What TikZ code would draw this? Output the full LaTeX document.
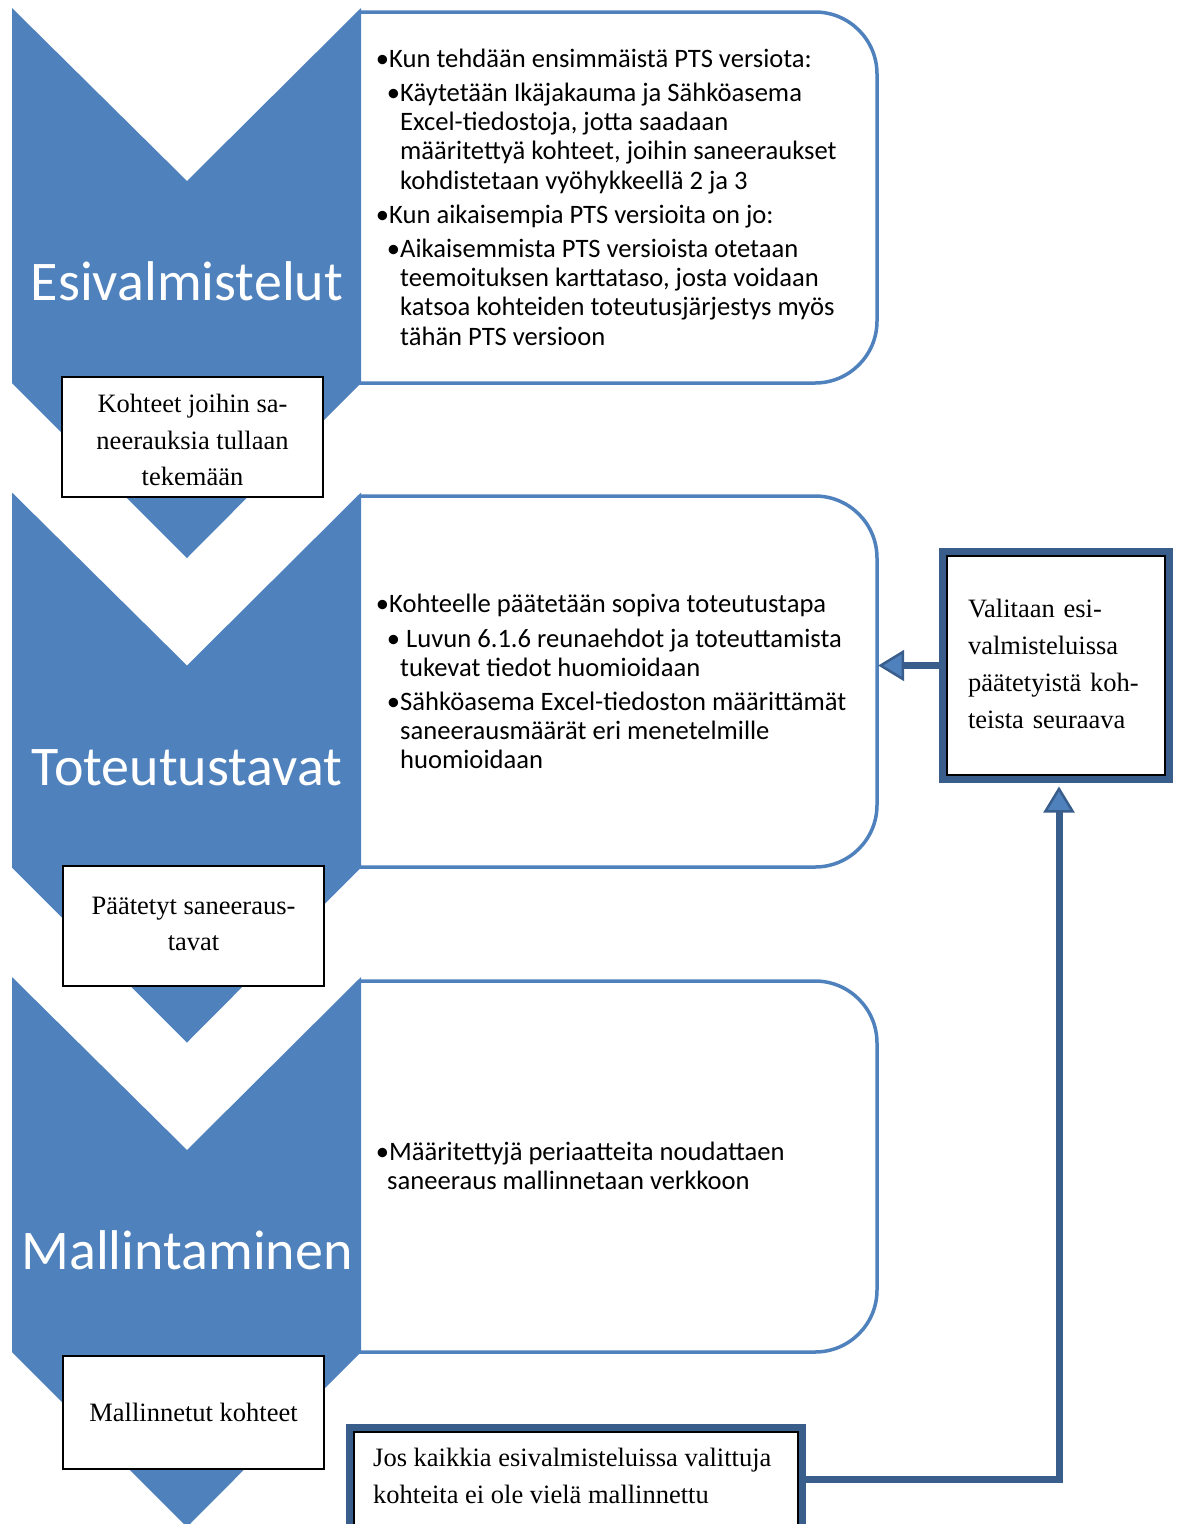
\documentclass[tikz,border=0pt]{standalone}
\usepackage{fontspec}
\setmainfont{Liberation Serif}
\newfontfamily\calfont{Carlito}
\usetikzlibrary{arrows.meta}
\definecolor{acc}{HTML}{4F81BD}
\definecolor{dk}{HTML}{395E8C}
\newcommand\tl[4]{\node[anchor=base west, inner sep=0, font=\calfont\fontsize{26.6}{30}\selectfont] (#1) at (#2,#3) {#4};}
\begin{document}
\begin{tikzpicture}[x=1pt,y=-1pt,
  chev/.style={fill=acc},
  pbox/.style={draw=acc, line width=3.5pt, fill=white},
  title/.style={text=white, font=\calfont\fontsize{56}{62}\selectfont, anchor=base, inner sep=0},
  obox/.style={draw=black, line width=1.8pt, fill=white, align=center, inner sep=2pt,
    minimum width=261pt, font=\fontsize{26.5}{36.5}\selectfont},
  frame/.style={draw=dk, line width=7pt, fill=white, outer sep=0pt},
  conn/.style={draw=dk, line width=7pt, -{Triangle[width=31pt,length=26pt,fill=acc,line width=2.5pt]}},
  ]
\useasboundingbox (0,0) rectangle (1179,1524);
\clip (0,0) rectangle (1179,1524);

% rounded panels
\node[minimum width=516pt, minimum height=371pt, inner sep=0] (p1) at (619,197.5) {};
\node[minimum width=516pt, minimum height=371pt, inner sep=0] (p2) at (619,681.5) {};
\node[minimum width=516pt, minimum height=371pt, inner sep=0] (p3) at (619,1166.5) {};
\draw[pbox] (359,12) -- (815,12) arc[start angle=90,end angle=0,radius=62pt] -- (877,321) arc[start angle=0,end angle=-90,radius=62pt] -- (355,383);
\draw[pbox] (359,496) -- (815,496) arc[start angle=90,end angle=0,radius=62pt] -- (877,805) arc[start angle=0,end angle=-90,radius=62pt] -- (355,867);
\draw[pbox] (359,981) -- (815,981) arc[start angle=90,end angle=0,radius=62pt] -- (877,1290) arc[start angle=0,end angle=-90,radius=62pt] -- (355,1352);

% chevrons
\fill[chev] (12,8) -- (187,181) -- (361,8) -- (361,383) -- (187,558) -- (12,383) -- cycle;
\fill[chev] (12,492.5) -- (187,665.5) -- (361,492.5) -- (361,867.5) -- (187,1042.5) -- (12,867.5) -- cycle;
\fill[chev] (12,977) -- (187,1150) -- (361,977) -- (361,1352) -- (187,1527) -- (12,1352) -- cycle;

\node[title] (c1) at (187,300) {Esivalmistelut};
\node[title] (c2) at (187,785) {Toteutustavat};
\node[title] (c3) at (187,1269) {Mallintaminen};

% panel texts
\tl{a1}{389}{67}{\llap{•}Kun tehdään ensimmäistä PTS versiota:}
\tl{a2}{400}{101}{\llap{•}Käytetään Ikäjakauma ja Sähköasema}
\tl{a3}{400}{130.3}{Excel-tiedostoja, jotta saadaan}
\tl{a4}{400}{159.6}{määritettyä kohteet, joihin saneeraukset}
\tl{a5}{400}{189}{kohdistetaan vyöhykkeellä 2 ja 3}
\tl{a6}{389}{223}{\llap{•}Kun aikaisempia PTS versioita on jo:}
\tl{a7}{400}{257}{\llap{•}Aikaisemmista PTS versioista otetaan}
\tl{a8}{400}{286.3}{teemoituksen karttataso, josta voidaan}
\tl{a9}{400}{315.6}{katsoa kohteiden toteutusjärjestys myös}
\tl{a10}{400}{345}{tähän PTS versioon}

\tl{b1}{389}{612}{\llap{•}Kohteelle päätetään sopiva toteutustapa}
\tl{b2}{400}{647}{\llap{•} Luvun 6.1.6 reunaehdot ja toteuttamista}
\tl{b3}{400}{676.3}{tukevat tiedot huomioidaan}
\tl{b4}{400}{710}{\llap{•}Sähköasema Excel-tiedoston määrittämät}
\tl{b5}{400}{739.3}{saneerausmäärät eri menetelmille}
\tl{b6}{400}{768.6}{huomioidaan}

\tl{d1}{389}{1160}{\llap{•}Määritettyjä periaatteita noudattaen}
\tl{d2}{387}{1189.3}{saneeraus mallinnetaan verkkoon}

% output boxes
\node[obox, minimum height=120pt] (o1) at (192.5,437) {};
\node[align=center, inner sep=0, font=\fontsize{26.5}{36.5}\selectfont] (o1t) at (192.5,440) {Kohteet joihin sa-\\neerauksia tullaan\\tekemään};
\node[obox, minimum height=120pt] (o2) at (193.5,926) {};
\node[align=center, inner sep=0, font=\fontsize{26.5}{36.5}\selectfont] (o2t) at (193.5,924) {Päätetyt saneeraus-\\tavat};
\node[obox, minimum height=113pt] (o3) at (193.5,1412.5) {Mallinnetut kohteet};

% right box
\node[frame, minimum width=227pt, minimum height=228pt] (r) at (1056,665.5) {};
\draw[black, line width=1.5pt] ([shift={(4.6,4.6)}]r.north west) rectangle ([shift={(-4.6,-4.6)}]r.south east);
\node[align=left, text width=176pt, inner sep=0, font=\fontsize{26.5}{37}\selectfont] (rt) at (1056,664) {Valitaan esi-\\valmisteluissa\\päätetyistä koh-\\teista seuraava};

% bottom box
\node[frame, minimum width=453pt, minimum height=103pt, anchor=north] (b) at (576,1427.5) {};
\draw[black, line width=1.5pt] ([shift={(4.6,4.6)}]b.north west) rectangle ([shift={(-4.6,40)}]b.south east);
\node[align=left, anchor=west, inner sep=0, font=\fontsize{26.5}{37}\selectfont] (bt) at (373,1476) {Jos kaikkia esivalmisteluissa valittuja\\kohteita ei ole vielä mallinnettu};

% connectors
\draw[conn, shorten >=1pt] (r.west) -- (r.west -| p2.east);
\draw[conn, shorten >=7pt] (b.east) -| ([xshift=3pt]r.south);
\end{tikzpicture}
\end{document}
